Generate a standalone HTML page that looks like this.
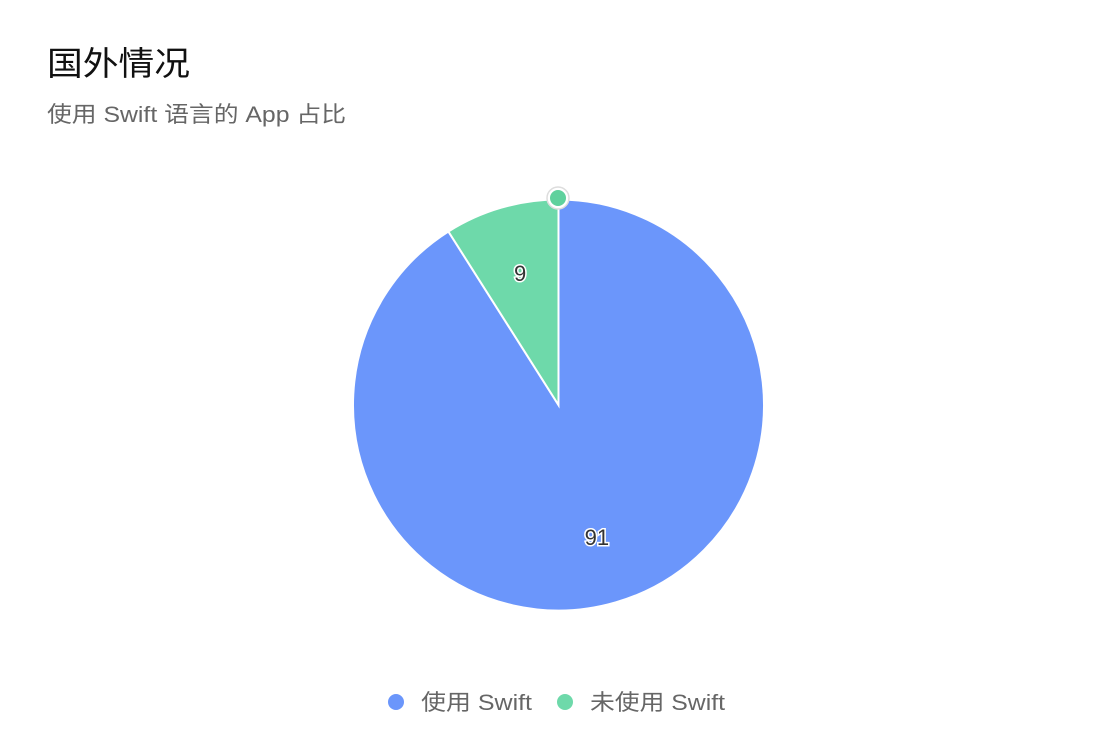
<!DOCTYPE html>
<html><head><meta charset="utf-8"><style>
body{margin:0;width:1116px;height:736px;background:#fff;overflow:hidden;font-family:"Liberation Sans","Noto Sans CJK SC",sans-serif}
</style></head><body>
<svg width="1116" height="736">
<text x="47" y="75" font-size="33" textLength="143" lengthAdjust="spacingAndGlyphs" fill="#111">国外情况</text>
<text x="47" y="122" font-size="22" textLength="299" lengthAdjust="spacingAndGlyphs" fill="#666">使用 Swift 语言的 App 占比</text>
<g id="slices"></g>
<g id="labels"></g>
<circle cx="558" cy="198" r="11" fill="#fff" stroke="#ddd" stroke-width="1.5"/>
<circle cx="558" cy="198" r="8" fill="#5fd19d"/>
<g>
<circle cx="396" cy="702" r="8" fill="#6b96fb"/>
<text x="421" y="710" font-size="22" textLength="111" lengthAdjust="spacingAndGlyphs" fill="#666">使用 Swift</text>
<circle cx="565" cy="702" r="8" fill="#6ed9aa"/>
<text x="590" y="710" font-size="22" textLength="135" lengthAdjust="spacingAndGlyphs" fill="#666">未使用 Swift</text>
</g>
</svg>
<script>
const categories=["使用 Swift","未使用 Swift"];
const values=[91,9];
const colors=["#6b96fb","#6ed9aa"];
const cx=558.5,cy=405,R=205.5;
const total=values.reduce((a,b)=>a+b,0);
const sg=document.getElementById('slices'),lg=document.getElementById('labels');
const NS="http://www.w3.org/2000/svg";
let a0=0;
function pt(a,r){return [cx+r*Math.sin(a),cy-r*Math.cos(a)];}
values.forEach((v,i)=>{
  const a1=a0+v/total*2*Math.PI;
  const p0=pt(a0,R),p1=pt(a1,R);
  const large=(a1-a0)>Math.PI?1:0;
  const p=document.createElementNS(NS,'path');
  p.setAttribute('d',`M${cx},${cy}L${p0[0]},${p0[1]}A${R},${R} 0 ${large} 1 ${p1[0]},${p1[1]}Z`);
  p.setAttribute('fill',colors[i]);p.setAttribute('stroke','#fff');p.setAttribute('stroke-width','2');
  
  
  sg.appendChild(p);
  const m=(a0+a1)/2,lp=pt(m,R*0.67);
  const t=document.createElementNS(NS,'text');
  t.setAttribute('x',lp[0]);t.setAttribute('y',lp[1]+8);
  t.setAttribute('text-anchor','middle');t.setAttribute('font-size','22');
  t.setAttribute('fill','#333');t.setAttribute('stroke','#fff');t.setAttribute('stroke-width','3');t.setAttribute('paint-order','stroke');
  t.textContent=v;
  
  
  lg.appendChild(t);
  a0=a1;
});
</script>
</body></html>
